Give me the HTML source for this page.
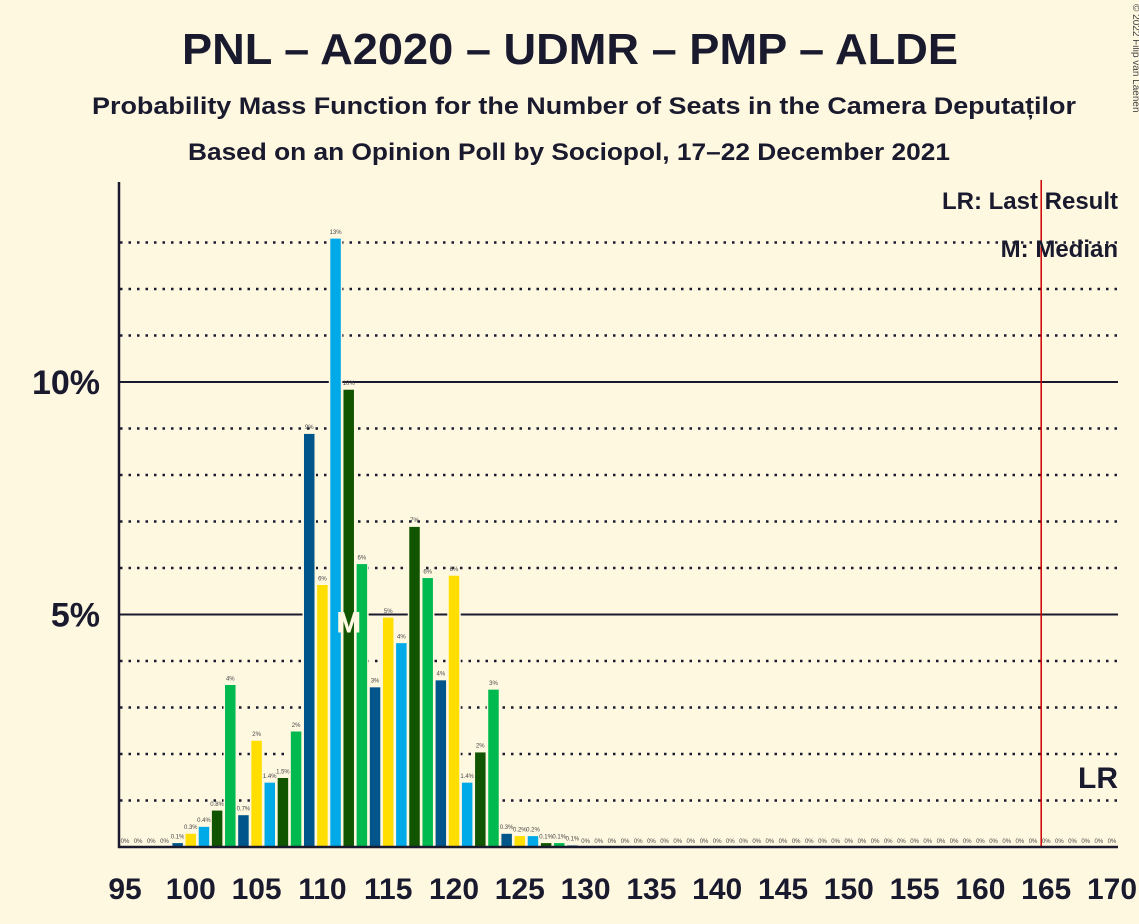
<!DOCTYPE html>
<html><head><meta charset="utf-8"><style>
body{margin:0;background:#fff8e1;}
svg{display:block;font-family:"Liberation Sans",sans-serif;}
</style></head><body>
<svg id="c" width="1139" height="924">
<rect width="1139" height="924" fill="#fff8e1"/>
<text x="570" y="64" text-anchor="middle" font-size="44" font-weight="bold" fill="#1a1a2e" textLength="776" lengthAdjust="spacingAndGlyphs">PNL – A2020 – UDMR – PMP – ALDE</text>
<text x="584" y="114" text-anchor="middle" font-size="24" font-weight="bold" fill="#1a1a2e" textLength="984" lengthAdjust="spacingAndGlyphs">Probability Mass Function for the Number of Seats in the Camera Deputaților</text>
<text x="569" y="160" text-anchor="middle" font-size="24" font-weight="bold" fill="#1a1a2e" textLength="762" lengthAdjust="spacingAndGlyphs">Based on an Opinion Poll by Sociopol, 17–22 December 2021</text>
<text x="1133" y="4" font-size="10" fill="#444" transform="rotate(90 1133 4)">© 2022 Filip van Laenen</text>
<g id="grid"></g><g id="bars"></g><g id="axes"></g>
<text x="1118" y="209" text-anchor="end" font-size="24" font-weight="bold" fill="#1a1a2e">LR: Last Result</text>
<text x="1118" y="257" text-anchor="end" font-size="24" font-weight="bold" fill="#1a1a2e">M: Median</text>
</svg>
<script>
const seats=[];for(let s=95;s<=170;s++)seats.push(s);
const probs=[0,0,0,0,0.1,0.3,0.45,0.8,3.5,0.7,2.3,1.4,1.5,2.5,8.9,5.65,13.1,9.85,6.1,3.45,4.95,4.4,6.9,5.8,3.6,5.85,1.4,2.05,3.4,0.3,0.25,0.25,0.1,0.1,0.05,0];
const labels=["0%","0%","0%","0%","0.1%","0.3%","0.4%","0.8%","4%","0.7%","2%","1.4%","1.5%","2%","9%","6%","13%","10%","6%","3%","5%","4%","7%","6%","4%","6%","1.4%","2%","3%","0.3%","0.2%","0.2%","0.1%","0.1%","0.1%","0%"];
const yTicks=[5,10];
const xTicks=[95,100,105,110,115,120,125,130,135,140,145,150,155,160,165,170];
const median=112, lastResult=165;
const colors=["#ffde00","#00aae8","#115500","#00b94f","#00558a"];
const NS="http://www.w3.org/2000/svg";
const x=s=>125+(s-95)*13.16, y=p=>847-p*46.5;
function mk(t,a,p){const e=document.createElementNS(NS,t);for(const k in a)e.setAttribute(k,a[k]);p.appendChild(e);return e;}
const G=document.getElementById('grid'),B=document.getElementById('bars'),A=document.getElementById('axes');
for(let i=1;i<=13;i++){if(i%5==0)continue;const l=mk('line',{x1:120,x2:1118,y1:y(i),y2:y(i),stroke:'#1a1a2e','stroke-width':2.5,'stroke-dasharray':'2.5,6'},G);

}
yTicks.forEach(v=>{const l=mk('line',{x1:120,x2:1118,y1:y(v),y2:y(v),stroke:'#1a1a2e','stroke-width':2},G);


const t=mk('text',{x:100,y:y(v)+12,'text-anchor':'end','font-size':34,'font-weight':'bold',fill:'#1a1a2e'},A);t.textContent=v+'%';

});
seats.forEach((s,i)=>{const p=i<probs.length?probs[i]:0;const lb=i<labels.length?labels[i]:'0%';
if(p>0){const r=mk('rect',{x:x(s)-6,y:y(p),width:12,height:847-y(p),fill:colors[s%5],stroke:'#fff8e1','stroke-width':1.5},B);

}
const t=mk('text',{x:x(s),y:y(p)-4,'text-anchor':'middle','font-size':6,fill:'#444'},B);t.textContent=lb;

});
const m=mk('text',{x:x(median),y:y(5)+18,'text-anchor':'middle','font-size':30,'font-weight':'bold',fill:'#fff8e1'},B);m.textContent='M';


const lr=mk('line',{x1:x(lastResult)-5,x2:x(lastResult)-5,y1:180,y2:847,stroke:'#cc0000','stroke-width':1.5},B);


const lt=mk('text',{x:1118,y:788,'text-anchor':'end','font-size':30,'font-weight':'bold',fill:'#1a1a2e'},B);lt.textContent='LR';


const ya=mk('line',{x1:119,x2:119,y1:182,y2:848,stroke:'#1a1a2e','stroke-width':2.5},A);


const xa=mk('line',{x1:118,x2:1118,y1:847,y2:847,stroke:'#1a1a2e','stroke-width':2.5},A);


xTicks.forEach(v=>{const t=mk('text',{x:x(v),y:899,'text-anchor':'middle','font-size':30,'font-weight':'bold',fill:'#1a1a2e'},A);t.textContent=v;

});
</script>
</body></html>
